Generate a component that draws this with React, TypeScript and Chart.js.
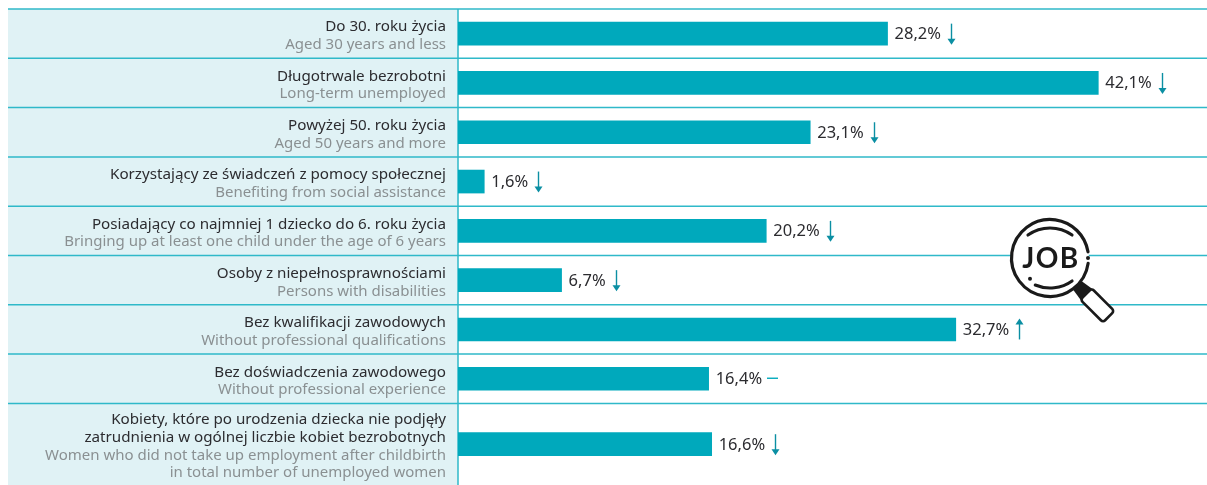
import React, { useEffect, useRef } from "react";
import { Chart, registerables } from "chart.js";

Chart.register(...registerables);

const labelsPl: string[][] = [
  ["Do 30. roku życia"],
  ["Długotrwale bezrobotni"],
  ["Powyżej 50. roku życia"],
  ["Korzystający ze świadczeń z pomocy społecznej"],
  ["Posiadający co najmniej 1 dziecko do 6. roku życia"],
  ["Osoby z niepełnosprawnościami"],
  ["Bez kwalifikacji zawodowych"],
  ["Bez doświadczenia zawodowego"],
  ["Kobiety, które po urodzenia dziecka nie podjęły", "zatrudnienia w ogólnej liczbie kobiet bezrobotnych"],
];
const labelsEn: string[][] = [
  ["Aged 30 years and less"],
  ["Long-term unemployed"],
  ["Aged 50 years and more"],
  ["Benefiting from social assistance"],
  ["Bringing up at least one child under the age of 6 years"],
  ["Persons with disabilities"],
  ["Without professional qualifications"],
  ["Without professional experience"],
  ["Women who did not take up employment after childbirth", "in total number of unemployed women"],
];
const values = [28.2, 42.1, 23.1, 1.6, 20.2, 6.7, 32.7, 16.4, 16.6];
const trends = ["down", "down", "down", "down", "down", "down", "up", "flat", "down"];
const rowSpans = [1, 1, 1, 1, 1, 1, 1, 1, 1.655];

const rowEdges = rowSpans.reduce<number[]>((acc, s) => [...acc, acc[acc.length - 1] + s], [0]);
const rowCenters = rowSpans.map((s, i) => rowEdges[i] + s / 2);
const FONT = '"Noto Sans"';
const TEAL = "#00a9bc";
const LINE = "#2fb9c9";
const ARROW = "#0b8fa3";
const X_MIN = -0.132;
const X_MAX = 49.27;

const tablePlugin = {
  id: "table",
  beforeDatasetsDraw(chart: any) {
    const { ctx, chartArea: a, scales } = chart;
    const y = scales.y;
    ctx.save();
    ctx.fillStyle = "#e0f2f5";
    ctx.fillRect(8, a.top, a.left - 8, a.bottom - a.top);
    ctx.strokeStyle = LINE;
    ctx.lineWidth = 1.5;
    rowEdges.slice(0, -1).forEach((e) => {
      const py = y.getPixelForValue(e);
      ctx.beginPath();
      ctx.moveTo(8, py);
      ctx.lineTo(a.right, py);
      ctx.stroke();
    });
    ctx.beginPath();
    ctx.moveTo(a.left, a.top);
    ctx.lineTo(a.left, a.bottom);
    ctx.stroke();
    ctx.restore();
  },
  afterDatasetsDraw(chart: any) {
    const { ctx, scales } = chart;
    const x = scales.x;
    const y = scales.y;
    ctx.save();
    ctx.textAlign = "right";
    ctx.textBaseline = "alphabetic";
    rowCenters.forEach((c, i) => {
      const cy = y.getPixelForValue(c);
      const lines = [...labelsPl[i], ...labelsEn[i]];
      lines.forEach((t, k) => {
        const isPl = k < labelsPl[i].length;
        ctx.font = `${isPl ? 15.2 : 15}px ${FONT}`;
        ctx.fillStyle = isPl ? "#2c2c30" : "#8a9092";
        ctx.fillText(t, 446, cy + (k - (lines.length - 1) / 2) * 17.6 + 6.6);
      });
    });
    ctx.textAlign = "left";
    values.forEach((v, i) => {
      const cy = y.getPixelForValue(rowCenters[i]);
      const tx = x.getPixelForValue(v) + 7;
      const label = v.toFixed(1).replace(".", ",") + "%";
      ctx.font = `16.5px ${FONT}`;
      ctx.fillStyle = "#2c2c30";
      ctx.fillText(label, tx, cy + 5.5);
      const ax = Math.round(tx + ctx.measureText(label).width + 10) + 0.5;
      ctx.strokeStyle = ARROW;
      ctx.fillStyle = ARROW;
      ctx.lineWidth = 1.4;
      const dir = trends[i];
      if (dir === "flat") {
        ctx.strokeStyle = TEAL;
        ctx.beginPath();
        ctx.moveTo(ax - 5.5, cy - 0.5);
        ctx.lineTo(ax + 5.5, cy - 0.5);
        ctx.stroke();
      } else {
        const s = dir === "down" ? 1 : -1;
        ctx.beginPath();
        ctx.moveTo(ax, cy - 10 * s);
        ctx.lineTo(ax, cy + 6 * s);
        ctx.stroke();
        ctx.beginPath();
        ctx.moveTo(ax - 4, cy + 5 * s);
        ctx.lineTo(ax + 4, cy + 5 * s);
        ctx.lineTo(ax, cy + 11 * s);
        ctx.closePath();
        ctx.fill();
      }
    });
    drawJobIcon(ctx);
    ctx.restore();
  },
};

function drawJobIcon(ctx: CanvasRenderingContext2D) {
  const cx = 1050;
  const cy = 258;
  const ink = "#1a1a1a";
  ctx.save();
  ctx.lineCap = "round";
  ctx.strokeStyle = ink;
  ctx.save();
  ctx.translate(cx, cy);
  ctx.rotate(Math.PI / 4);
  ctx.fillStyle = ink;
  ctx.beginPath();
  ctx.moveTo(38, -6);
  ctx.lineTo(52, -8);
  ctx.lineTo(52, 8);
  ctx.lineTo(38, 6);
  ctx.closePath();
  ctx.fill();
  ctx.fillStyle = "#fff";
  ctx.lineWidth = 2.6;
  ctx.beginPath();
  (ctx as any).roundRect(51, -8, 32, 16, 3);
  ctx.fill();
  ctx.stroke();
  ctx.restore();
  ctx.fillStyle = "#fff";
  ctx.beginPath();
  ctx.arc(cx, cy, 39, 0, Math.PI * 2);
  ctx.fill();
  ctx.lineWidth = 3.2;
  ctx.beginPath();
  ctx.arc(cx, cy, 38.5, 0.14, Math.PI * 2 - 0.16);
  ctx.stroke();
  ctx.lineWidth = 3;
  ctx.beginPath();
  ctx.arc(cx, cy + 8, 38, Math.PI * 1.5 - 0.62, Math.PI * 1.5 + 0.62);
  ctx.stroke();
  ctx.beginPath();
  ctx.arc(cx, cy - 8, 38, 0.95, Math.PI / 2 + 0.4);
  ctx.stroke();
  ctx.fillStyle = ink;
  [[cx - 20, cy + 20.7], [cx + 38, cy]].forEach(([px, py]) => {
    ctx.beginPath();
    ctx.arc(px, py, 2, 0, Math.PI * 2);
    ctx.fill();
  });
  ctx.font = 'bold 28px Lato';
  (ctx as any).letterSpacing = "1.5px";
  ctx.textAlign = "center";
  ctx.textBaseline = "alphabetic";
  ctx.fillText("JOB", cx + 1, cy + 10);
  (ctx as any).letterSpacing = "0px";
  ctx.restore();
}

export default function App() {
  const ref = useRef<HTMLCanvasElement>(null);
  useEffect(() => {
    const chart = new Chart(ref.current as HTMLCanvasElement, {
      type: "bar",
      data: {
        datasets: [
          {
            data: values.map((v, i) => ({ x: v, y: rowCenters[i] })),
            backgroundColor: TEAL,
            barThickness: 23,
            base: X_MIN,
          },
        ],
      },
      options: {
        indexAxis: "y",
        animation: false,
        responsive: false,
        layout: { padding: { left: 458, top: 9, right: 0, bottom: 0 } },
        plugins: { legend: { display: false }, tooltip: { enabled: false } },
        scales: {
          x: { type: "linear", min: X_MIN, max: X_MAX, display: false },
          y: {
            type: "linear",
            min: 0,
            max: rowEdges[rowEdges.length - 1],
            reverse: true,
            display: false,
            offset: false,
          },
        },
      },
      plugins: [tablePlugin],
    } as any);
    return () => chart.destroy();
  }, []);
  return (
    <canvas
      ref={ref}
      width={1207}
      height={485}
      style={{ position: "absolute", left: 0, top: 0, display: "block" }}
    />
  );
}
